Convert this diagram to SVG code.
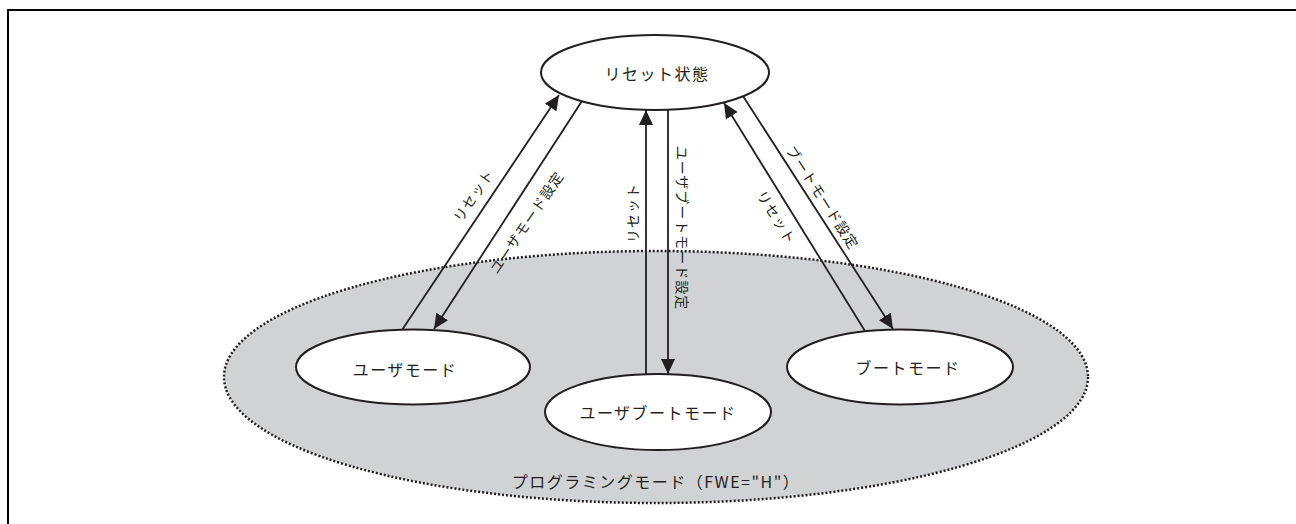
<svg xmlns="http://www.w3.org/2000/svg" width="1296" height="524" viewBox="0 0 1296 524">
<style>
.node{fill:#fff;stroke:#231f20;stroke-width:2}
.t{font-family:"Noto Sans CJK JP","Noto Sans",sans-serif;fill:#231f20;text-anchor:middle;dominant-baseline:central}
.nt{font-size:16px;letter-spacing:1.5px}
.lt{font-size:14px;letter-spacing:1px}
.c{stroke:#231f20;stroke-width:1.8;fill:none;marker-end:url(#ah)}
</style>
<defs>
<marker id="ah" markerUnits="userSpaceOnUse" markerWidth="16" markerHeight="14" refX="15" refY="7" orient="auto">
<path d="M0,0 L15,7 L0,14 z" fill="#231f20"/>
</marker>
</defs>
<rect width="1296" height="524" fill="#fff"/>
<path d="M8,524 V10 H1296" fill="none" stroke="#000" stroke-width="2"/>
<g id="programming-mode">
<ellipse cx="656" cy="377" rx="432" ry="126" fill="#d1d2d4" stroke="#231f20" stroke-width="2.5" stroke-dasharray="2 2"/>
<text class="t nt" x="656" y="481">プログラミングモード（FWE="H"）</text>
</g>
<g id="connectors">
<line class="c" x1="402" y1="330" x2="559" y2="95"/>
<line class="c" x1="582" y1="101" x2="434" y2="329"/>
<line class="c" x1="646" y1="374" x2="646" y2="110"/>
<line class="c" x1="668" y1="110" x2="668" y2="374"/>
<line class="c" x1="865" y1="331" x2="724" y2="103"/>
<line class="c" x1="743" y1="96" x2="893" y2="329"/>
<text class="t lt" transform="translate(473,195) rotate(-56)">リセット</text>
<text class="t lt" transform="translate(526,222) rotate(-56)">ユーザモード設定</text>
<text class="t lt" transform="translate(632,213) rotate(-90)">リセット</text>
<text class="t lt" transform="translate(683,228) rotate(90)">ユーザブートモード設定</text>
<text class="t lt" transform="translate(823,197) rotate(57)">ブートモード設定</text>
<text class="t lt" transform="translate(777,217) rotate(58)">リセット</text>
</g>
<g id="reset-state">
<ellipse class="node" cx="655" cy="72.5" rx="114" ry="37.5"/>
<text class="t nt" x="657" y="73">リセット状態</text>
</g>
<g id="user-mode">
<ellipse class="node" cx="413" cy="367" rx="117" ry="37.5"/>
<text class="t nt" x="405" y="369">ユーザモード</text>
</g>
<g id="user-boot-mode">
<ellipse class="node" cx="658" cy="412" rx="113" ry="38"/>
<text class="t nt" x="658" y="412">ユーザブートモード</text>
</g>
<g id="boot-mode">
<ellipse class="node" cx="900" cy="367" rx="113" ry="37.5"/>
<text class="t nt" x="908" y="367">ブートモード</text>
</g>
</svg>
